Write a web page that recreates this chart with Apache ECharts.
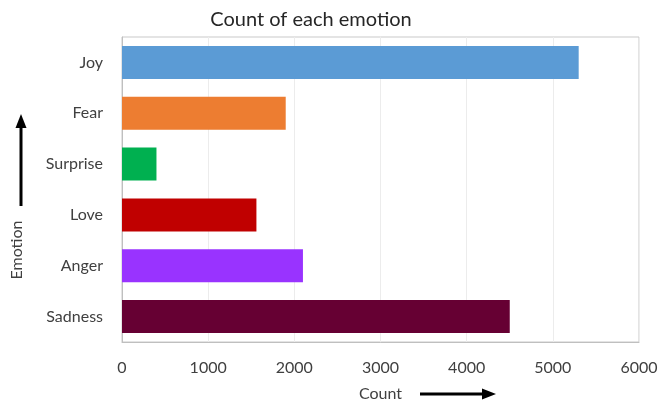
<!DOCTYPE html>
<html>
<head>
<meta charset="utf-8">
<script src="https://cdn.jsdelivr.net/npm/echarts@6/dist/echarts.min.js"></script>
<style>
  html, body { margin: 0; padding: 0; background: #ffffff; }
  #chart { width: 658px; height: 403px; }
</style>
</head>
<body>
<div id="chart"></div>
<script>
// Emotion counts, listed top to bottom
const emotions = ['Joy', 'Fear', 'Surprise', 'Love', 'Anger', 'Sadness'];
const counts = [5300, 1900, 400, 1560, 2100, 4500];
const barColors = ['#5B9BD5', '#ED7D31', '#00B050', '#C00000', '#9933FF', '#660033'];
const countTicks = [0, 1000, 2000, 3000, 4000, 5000, 6000];

const FONT = 'Lato, "Open Sans", sans-serif';
const TEXT = '#404040';

const chart = echarts.init(document.getElementById('chart'), null, { renderer: 'canvas' });

chart.setOption({
  backgroundColor: '#ffffff',
  animation: false,
  title: {
    text: 'Count of each emotion',
    left: 306,
    top: 5,
    textAlign: 'center',
    textStyle: { fontFamily: FONT, fontSize: 20, fontWeight: 'normal', color: '#262626' }
  },
  grid: {
    left: 122, right: 19, top: 37, bottom: 61,
    outerBoundsMode: 'none',
    containLabel: false,
    show: true,
    borderColor: '#c9c9c9',
    borderWidth: 1
  },
  xAxis: {
    type: 'value',
    min: countTicks[0],
    max: countTicks[countTicks.length - 1],
    interval: 1000,
    axisLine: { show: true, lineStyle: { color: '#bfbfbf' } },
    axisTick: { show: false },
    splitLine: { show: true, lineStyle: { color: '#ececec', width: 1 } },
    axisLabel: { margin: 18, fontFamily: FONT, fontSize: 16, color: TEXT, formatter: v => String(v) },
    name: 'Count',
    nameLocation: 'middle',
    nameGap: 44,
    nameTextStyle: { fontFamily: FONT, fontSize: 16, color: TEXT }
  },
  yAxis: {
    type: 'category',
    data: emotions,
    inverse: true,
    axisLine: { show: true, lineStyle: { color: '#bfbfbf' } },
    axisTick: { show: false },
    splitLine: { show: false },
    axisLabel: { margin: 19, fontFamily: FONT, fontSize: 16, color: TEXT }
  },
  series: [{
    type: 'bar',
    data: counts.map((v, i) => ({ value: v, itemStyle: { color: barColors[i] } })),
    barCategoryGap: '35%',
    silent: true
  }],
  graphic: [
    // category axis title, rotated, below its arrow
    {
      type: 'text', x: 17, y: 250, rotation: Math.PI / 2,
      style: {
        text: 'Emotion', fontFamily: FONT, fontSize: 16, fill: TEXT,
        align: 'center', verticalAlign: 'middle'
      }
    },
    // upward arrow beside the category axis title
    {
      type: 'line', shape: { x1: 21, y1: 206, x2: 21, y2: 126 },
      style: { stroke: '#000', lineWidth: 3 }
    },
    {
      type: 'polygon', shape: { points: [[21, 114], [15.5, 128], [26.5, 128]] },
      style: { fill: '#000' }
    },
    // rightward arrow beside the value axis title
    {
      type: 'line', shape: { x1: 420, y1: 394, x2: 483, y2: 394 },
      style: { stroke: '#000', lineWidth: 3 }
    },
    {
      type: 'polygon', shape: { points: [[496, 394], [482, 388.5], [482, 399.5]] },
      style: { fill: '#000' }
    }
  ]
});
</script>
</body>
</html>
